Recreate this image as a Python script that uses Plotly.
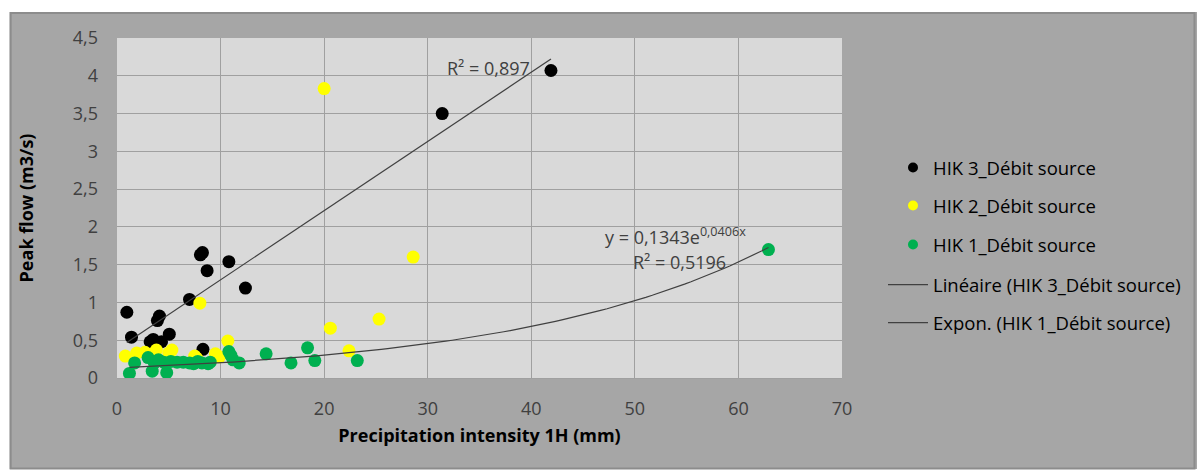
import numpy as np
import plotly.graph_objects as go

# HIK 3 (black)
hik3_x = [0.95, 1.4, 3.2, 3.5, 3.9, 4.1, 4.3, 5.05, 7.0, 8.05, 8.25, 8.3, 8.7, 10.8, 12.4, 31.4, 41.9]
hik3_y = [0.87, 0.54, 0.48, 0.51, 0.76, 0.82, 0.48, 0.58, 1.04, 1.63, 1.66, 0.38, 1.42, 1.54, 1.19, 3.50, 4.07]

# HIK 2 (yellow)
hik2_x = [0.8, 1.9, 2.7, 3.8, 5.0, 5.3, 7.5, 7.7, 8.0, 9.5, 9.9, 10.7, 20.0, 20.6, 22.4, 25.3, 28.6]
hik2_y = [0.29, 0.33, 0.34, 0.37, 0.33, 0.37, 0.29, 0.26, 0.99, 0.32, 0.28, 0.49, 3.83, 0.66, 0.36, 0.78, 1.60]

# HIK 1 (green)
hik1_x = [1.2, 1.7, 3.0, 3.4, 3.6, 4.0, 4.5, 4.8, 5.2, 5.8, 6.4, 7.0, 7.4, 7.8, 8.2, 8.8, 9.0,
          10.8, 11.0, 11.2, 11.8, 14.4, 16.8, 18.4, 19.1, 23.2, 62.9]
hik1_y = [0.06, 0.20, 0.27, 0.09, 0.20, 0.24, 0.21, 0.07, 0.22, 0.21, 0.21, 0.20, 0.19, 0.22, 0.20, 0.19, 0.21,
          0.35, 0.30, 0.24, 0.20, 0.32, 0.20, 0.40, 0.23, 0.23, 1.70]

# trendline coefficients (exponential from chart label)
exp_a, exp_b = 0.1343, 0.0406

FONT = "Open Sans"
FS = 18
LFS = 18.5
TXT = "#404040"

# linear trend for HIK 3
slope, intercept = np.polyfit(hik3_x, hik3_y, 1)
lin_x = np.array([min(hik3_x), max(hik3_x)])
lin_y = intercept + slope * lin_x

exp_x = np.linspace(min(hik1_x), max(hik1_x), 100)
exp_y = exp_a * np.exp(exp_b * exp_x)

fig = go.Figure()
MS = 13
fig.add_trace(go.Scatter(x=hik3_x, y=hik3_y, mode="markers", marker=dict(color="black", size=MS),
                         name="HIK 3_Débit source", showlegend=False))
fig.add_trace(go.Scatter(x=hik2_x, y=hik2_y, mode="markers", marker=dict(color="#ffff00", size=MS),
                         name="HIK 2_Débit source", showlegend=False))
fig.add_trace(go.Scatter(x=hik1_x, y=hik1_y, mode="markers", marker=dict(color="#00b050", size=MS),
                         name="HIK 1_Débit source", showlegend=False))
fig.add_trace(go.Scatter(x=lin_x, y=lin_y, mode="lines", line=dict(color="#404040", width=1.2),
                         name="Linéaire (HIK 3_Débit source)", legend="legend4"))
fig.add_trace(go.Scatter(x=exp_x, y=exp_y, mode="lines", line=dict(color="#404040", width=1.2),
                         name="Expon. (HIK 1_Débit source)", legend="legend5"))

# legend-only marker entries
for nm, col, lg in [("HIK 3_Débit source", "black", "legend"),
                    ("HIK 2_Débit source", "#ffff00", "legend2"),
                    ("HIK 1_Débit source", "#00b050", "legend3")]:
    fig.add_trace(go.Scatter(x=[None], y=[None], mode="markers", marker=dict(color=col, size=10),
                             name=nm, legend=lg))

L, R, T, B = 117, 354, 38, 93
W, H = 1197, 471
pw, ph = W - L - R, H - T - B


def px(xp):
    return (xp - L) / pw


def py(yp):
    return (H - B - yp) / ph


legfont = dict(family=FONT, size=LFS, color="black")
leg_common = dict(bgcolor="rgba(0,0,0,0)", borderwidth=0, font=legfont, xanchor="left", yanchor="middle")
fig.update_layout(
    legend=dict(x=px(893), y=py(168), itemwidth=30, **leg_common),
    legend2=dict(x=px(893), y=py(206), itemwidth=30, **leg_common),
    legend3=dict(x=px(893), y=py(245), itemwidth=30, **leg_common),
    legend4=dict(x=px(883), y=py(285), itemwidth=40, **leg_common),
    legend5=dict(x=px(883), y=py(323), itemwidth=40, **leg_common),
)

fig.update_layout(
    width=W, height=H,
    margin=dict(l=L, r=R, t=T, b=B),
    paper_bgcolor="#a6a6a6",
    plot_bgcolor="#d9d9d9",
    separators=", ",
    font=dict(family=FONT, size=FS, color=TXT),
    xaxis=dict(range=[0, 70], dtick=10, showgrid=True, gridcolor="#a0a0a0", gridwidth=1.3,
               zeroline=False, showline=True, linecolor="#a0a0a0", linewidth=1.3,
               ticks="", ticklabelstandoff=14,
               tickfont=dict(family=FONT, size=FS, color=TXT),
               title=dict(text="<b>Precipitation intensity 1H (mm)</b>", standoff=10,
                          font=dict(family=FONT, size=FS, color="black"))),
    yaxis=dict(range=[0, 4.5], dtick=0.5, showgrid=True, gridcolor="#a0a0a0", gridwidth=1.3,
               zeroline=False, showline=False,
               ticks="", ticklabelstandoff=18,
               tickfont=dict(family=FONT, size=FS, color=TXT),
               title=dict(text="<b>Peak flow (m3/s)</b>", standoff=34,
                          font=dict(family=FONT, size=FS, color="black"))),
)

# outer frame: white margins and darker border
fig.add_shape(type="rect", xref="paper", yref="paper", x0=px(-5), x1=px(W + 5), y0=py(-5), y1=py(12),
              fillcolor="white", line=dict(width=0), layer="below")
fig.add_shape(type="rect", xref="paper", yref="paper", x0=px(-5), x1=px(9.5), y0=py(H + 5), y1=py(-5),
              fillcolor="white", line=dict(width=0), layer="below")
fig.add_shape(type="rect", xref="paper", yref="paper", x0=px(-5), x1=px(W + 5), y0=py(H + 5), y1=py(469),
              fillcolor="white", line=dict(width=0), layer="below")
fig.add_shape(type="rect", xref="paper", yref="paper", x0=px(10.5), x1=px(1196), y0=py(468.5), y1=py(13),
              fillcolor="rgba(0,0,0,0)", line=dict(color="#8c8c8c", width=2), layer="below")

fig.add_annotation(x=35.9, y=4.10, xref="x", yref="y", text="R² = 0,897", showarrow=False,
                   font=dict(family=FONT, size=FS, color=TXT))
fig.add_annotation(x=53.9, y=1.88, xref="x", yref="y", text="y = 0,1343e<sup>0,0406x</sup>", showarrow=False,
                   font=dict(family=FONT, size=FS, color=TXT))
fig.add_annotation(x=54.3, y=1.54, xref="x", yref="y", text="R² = 0,5196", showarrow=False,
                   font=dict(family=FONT, size=FS, color=TXT))

fig.write_html("out.html")
